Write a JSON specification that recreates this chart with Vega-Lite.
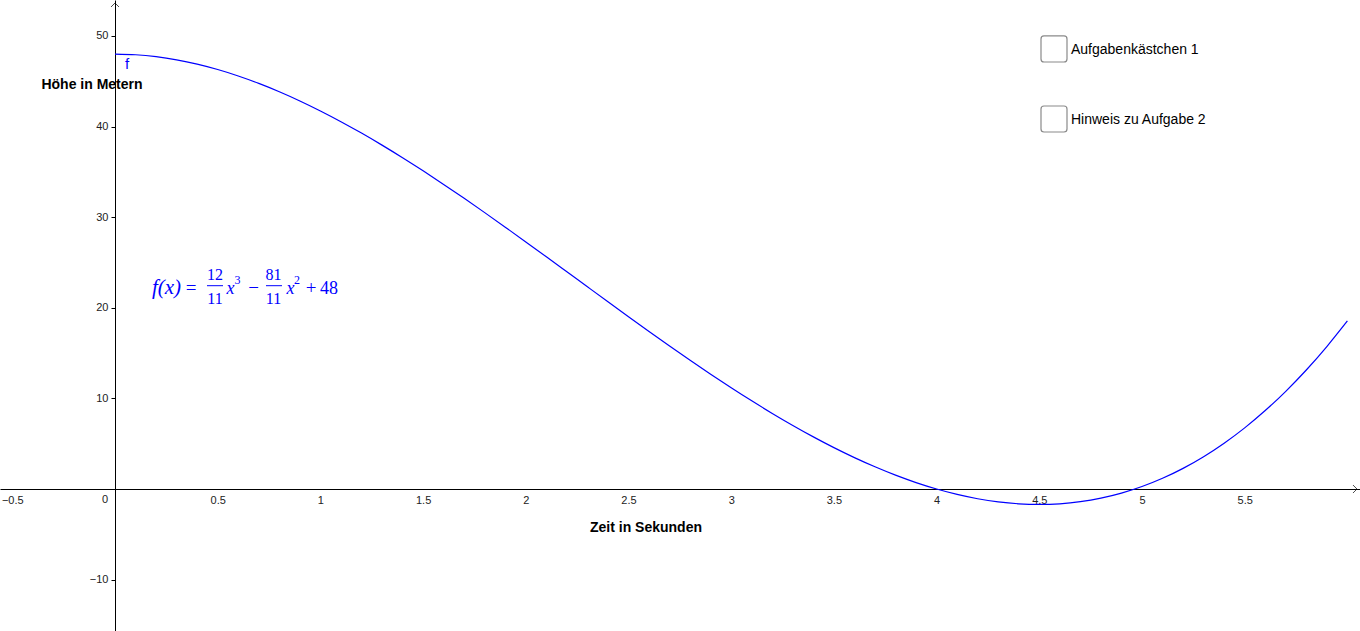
{
  "$schema": "https://vega.github.io/schema/vega-lite/v6.json",
  "width": 1360,
  "height": 631,
  "autosize": {"type": "none"},
  "padding": 0,
  "background": "white",
  "config": {
    "view": {"stroke": null},
    "font": "Liberation Sans"
  },
  "datasets": {
    "curve": [
      {"x": 0.0, "y": 48.0}, {"x": 0.1, "y": 47.9275}, {"x": 0.2, "y": 47.7142}, {"x": 0.3, "y": 47.3667},
      {"x": 0.4, "y": 46.8916}, {"x": 0.5, "y": 46.2955}, {"x": 0.6, "y": 45.5847}, {"x": 0.7, "y": 44.766},
      {"x": 0.8, "y": 43.8458}, {"x": 0.9, "y": 42.8307}, {"x": 1.0, "y": 41.7273}, {"x": 1.1, "y": 40.542},
      {"x": 1.2, "y": 39.2815}, {"x": 1.3, "y": 37.9522}, {"x": 1.4, "y": 36.5607}, {"x": 1.5, "y": 35.1136},
      {"x": 1.6, "y": 33.6175}, {"x": 1.7, "y": 32.0787}, {"x": 1.8, "y": 30.504}, {"x": 1.9, "y": 28.8998},
      {"x": 2.0, "y": 27.2727}, {"x": 2.1, "y": 25.6293}, {"x": 2.2, "y": 23.976}, {"x": 2.3, "y": 22.3195},
      {"x": 2.4, "y": 20.6662}, {"x": 2.5, "y": 19.0227}, {"x": 2.6, "y": 17.3956}, {"x": 2.7, "y": 15.7915},
      {"x": 2.8, "y": 14.2167}, {"x": 2.9, "y": 12.678}, {"x": 3.0, "y": 11.1818}, {"x": 3.1, "y": 9.7347},
      {"x": 3.2, "y": 8.3433}, {"x": 3.3, "y": 7.014}, {"x": 3.4, "y": 5.7535}, {"x": 3.5, "y": 4.5682},
      {"x": 3.6, "y": 3.4647}, {"x": 3.7, "y": 2.4496}, {"x": 3.8, "y": 1.5295}, {"x": 3.9, "y": 0.7107},
      {"x": 4.0, "y": 0.0}, {"x": 4.1, "y": -0.5962}, {"x": 4.2, "y": -1.0713}, {"x": 4.3, "y": -1.4187},
      {"x": 4.4, "y": -1.632}, {"x": 4.5, "y": -1.7045}, {"x": 4.6, "y": -1.6298}, {"x": 4.7, "y": -1.4013},
      {"x": 4.8, "y": -1.0124}, {"x": 4.9, "y": -0.4565}, {"x": 5.0, "y": 0.2727}, {"x": 5.1, "y": 1.182},
      {"x": 5.2, "y": 2.2778}, {"x": 5.3, "y": 3.5667}, {"x": 5.4, "y": 5.0553}, {"x": 5.5, "y": 6.75},
      {"x": 5.6, "y": 8.6575}, {"x": 5.7, "y": 10.7842}, {"x": 5.8, "y": 13.1367}, {"x": 5.9, "y": 15.7216},
      {"x": 6.0, "y": 18.5455}
    ],
    "formulaNormal": [
      {"t": "=", "x": 0.37, "y": 21.523, "s": 19},
      {"t": "12", "x": 0.4869, "y": 23.068, "s": 16},
      {"t": "11", "x": 0.4869, "y": 20.419, "s": 16},
      {"t": "3", "x": 0.5964, "y": 22.627, "s": 12},
      {"t": "−", "x": 0.6743, "y": 21.523, "s": 19},
      {"t": "81", "x": 0.7717, "y": 23.068, "s": 16},
      {"t": "11", "x": 0.7717, "y": 20.419, "s": 16},
      {"t": "2", "x": 0.8861, "y": 22.627, "s": 12},
      {"t": "+", "x": 0.9542, "y": 21.523, "s": 19},
      {"t": "48", "x": 1.0419, "y": 21.523, "s": 18}
    ],
    "formulaItalic": [
      {"t": "f(x)", "x": 0.2507, "y": 21.523, "s": 21},
      {"t": "x", "x": 0.5623, "y": 21.523, "s": 18},
      {"t": "x", "x": 0.8544, "y": 21.523, "s": 18}
    ],
    "bars": [
      {"x": 0.4479, "x2": 0.5258, "y": 22.439},
      {"x": 0.7351, "x2": 0.813, "y": 22.439}
    ],
    "titles": [
      {"t": "Höhe in Metern", "x": -0.112, "y": 44.6},
      {"t": "Zeit in Sekunden", "x": 2.5852, "y": -4.25}
    ],
    "boxes": [
      {"x": 4.5083, "x2": 4.6349, "y": 50.0, "y2": 47.13},
      {"x": 4.5083, "x2": 4.6349, "y": 42.27, "y2": 39.4}
    ],
    "boxLabels": [
      {"t": "Aufgabenkästchen 1", "x": 4.6543, "y": 48.5},
      {"t": "Hinweis zu Aufgabe 2", "x": 4.6543, "y": 40.75}
    ]
  },
  "encoding": {
    "x": {"field": "x", "type": "quantitative", "scale": {"domain": [-0.5599, 6.0614], "nice": false, "zero": false}},
    "y": {"field": "y", "type": "quantitative", "scale": {"domain": [-15.67, 53.97], "nice": false, "zero": false}}
  },
  "layer": [
    {
      "data": {"name": "curve"},
      "mark": {"type": "line", "color": "#0000ff", "strokeWidth": 1.2, "interpolate": "monotone"},
      "encoding": {
        "x": {"field": "x", "type": "quantitative", "axis": {
          "orient": "bottom", "offset": -142, "values": [-0.5, 0.5, 1, 1.5, 2, 2.5, 3, 3.5, 4, 4.5, 5, 5.5],
          "format": ".1~f", "title": null, "grid": false, "tickSize": 0, "labelPadding": 5,
          "labelFontSize": 11, "labelColor": "#222", "labelFont": "Liberation Sans",
          "domainColor": "black", "domainWidth": 1, "labelFlush": false, "labelOverlap": false
        }},
        "y": {"field": "y", "type": "quantitative", "axis": {
          "orient": "left", "offset": -115, "values": [-10, 10, 20, 30, 40, 50],
          "format": "d", "title": null, "grid": false, "tickSize": 4, "tickColor": "black", "labelPadding": 3,
          "labelFontSize": 11, "labelColor": "#222", "labelFont": "Liberation Sans",
          "domainColor": "black", "domainWidth": 1, "labelFlush": false, "labelOverlap": false
        }}
      }
    },
    {
      "data": {"values": [{"x": 6.0467, "y": 0}]},
      "mark": {"type": "point", "shape": "M-1,-1L0,0L-1,1", "filled": false, "stroke": "black", "strokeWidth": 1, "size": 64}
    },
    {
      "data": {"values": [{"x": 0, "y": 53.64}]},
      "mark": {"type": "point", "shape": "M-1,1L0,0L1,1", "filled": false, "stroke": "black", "strokeWidth": 1, "size": 64}
    },
    {
      "data": {"values": [{"t": "0", "x": -0.0487, "y": -1.214}]},
      "mark": {"type": "text", "font": "Liberation Sans", "fontSize": 11, "color": "#222", "baseline": "middle", "align": "center"},
      "encoding": {"text": {"field": "t"}}
    },
    {
      "data": {"values": [{"t": "f", "x": 0.0584, "y": 46.9}]},
      "mark": {"type": "text", "font": "Liberation Sans", "fontSize": 15, "color": "#0000ff", "baseline": "middle", "align": "center"},
      "encoding": {"text": {"field": "t"}}
    },
    {
      "data": {"name": "titles"},
      "mark": {"type": "text", "font": "Liberation Sans", "fontSize": 14, "fontWeight": "bold", "color": "black", "baseline": "middle", "align": "center"},
      "encoding": {"text": {"field": "t"}}
    },
    {
      "data": {"name": "formulaNormal"},
      "mark": {"type": "text", "font": "Liberation Serif", "color": "#0000ff", "baseline": "alphabetic", "align": "center"},
      "encoding": {"text": {"field": "t"}, "size": {"field": "s", "type": "quantitative", "scale": null}}
    },
    {
      "data": {"name": "formulaItalic"},
      "mark": {"type": "text", "font": "Liberation Serif", "fontStyle": "italic", "color": "#0000ff", "baseline": "alphabetic", "align": "center"},
      "encoding": {"text": {"field": "t"}, "size": {"field": "s", "type": "quantitative", "scale": null}}
    },
    {
      "data": {"name": "bars"},
      "mark": {"type": "rule", "color": "#0000ff", "strokeWidth": 1},
      "encoding": {"x2": {"field": "x2"}}
    },
    {
      "data": {"name": "boxes"},
      "mark": {"type": "rect", "fill": "white", "stroke": "#8a8a8a", "strokeWidth": 1.2, "cornerRadius": 3},
      "encoding": {"x2": {"field": "x2"}, "y2": {"field": "y2"}}
    },
    {
      "data": {"name": "boxLabels"},
      "mark": {"type": "text", "font": "Liberation Sans", "fontSize": 14, "color": "black", "baseline": "middle", "align": "left"},
      "encoding": {"text": {"field": "t"}}
    }
  ]
}
